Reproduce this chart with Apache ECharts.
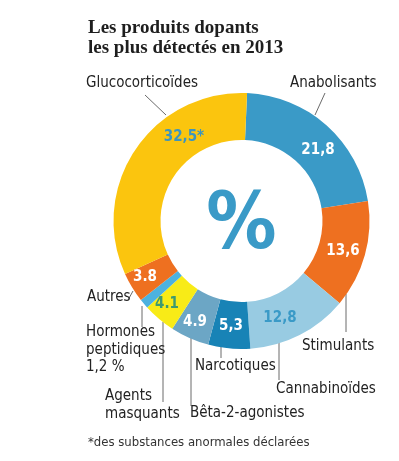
<!DOCTYPE html>
<html><head><meta charset="utf-8">
<script src="https://cdn.jsdelivr.net/npm/echarts@6/dist/echarts.min.js"></script>
<style>html,body{margin:0;padding:0;background:#fff}#c{width:399px;height:461px}</style>
</head><body><div id="c"></div>
<script>
// ---- data ----
const categories = ['Anabolisants','Stimulants','Cannabinoïdes','Narcotiques','Bêta-2-agonistes','Agents masquants','Hormones peptidiques','Autres','Glucocorticoïdes'];
const values = [21.8, 13.6, 12.8, 5.3, 4.9, 4.1, 1.2, 3.8, 32.5];
const valueLabels = ['21,8','13,6','12,8','5,3','4.9','4.1','','3.8','32,5*'];
const outerLabels = ['Anabolisants','Stimulants','Cannabinoïdes','Narcotiques','Bêta-2-agonistes','Agents\nmasquants','Hormones\npeptidiques\n1,2 %','Autres','Glucocorticoïdes'];
const titleText = 'Les produits dopants\nles plus détectés en 2013';
const footnote = '*des substances anormales déclarées';

// ---- styles / layout ----
const colors = ['#3A9AC7','#EE7020','#98CBE2','#1883B6','#6CA6C5','#F8EB17','#4CB2DF','#EE7020','#FBC50E'];
const valueColors = ['#fff','#fff','#3A9AC7','#fff','#fff','#3E9A70','#fff','#fff','#3C95BE'];
const innerPos = [[318,150],[343,251],[280,318],[231,326],[195,322],[167,304],[0,0],[145,277],[184,137]];
const outerPos = [[290,83],[302,346],[276,389],[195,366],[190,413],[105,405],[86,350],[87,297],[86,83]];
const outerLines = [
  [[315,115],[325,93]], [[346,294],[346,332]], [[279,342],[279,380]], [[221,347],[221,358]],
  [[191,338],[191,406]], [[163,322],[163,402]], [[142,306],[142,327]], [[133,291],[128,300]],
  [[166,115],[145,95]]
];
const CX = 241.5, CY = 221, R0 = 81, R1 = 128;
const NARROW = '"Liberation Sans Narrow","DejaVu Sans Condensed","Roboto",sans-serif';

const chart = echarts.init(document.getElementById('c'), null, {renderer:'canvas'});
const base = categories.map((n,i)=>({name:n, value:values[i]}));
chart.setOption({
  animation:false,
  title:{text:titleText, left:83, top:13,
    textStyle:{fontFamily:'"Liberation Serif","DejaVu Serif",serif', fontWeight:'bold', fontSize:19, lineHeight:20, color:'#1e1e1e'}},
  graphic:[
    {type:'text', x:CX, y:CY+7, style:{text:'%', fill:'#3A9AC7', font:'bold 78px '+NARROW, align:'center', verticalAlign:'middle'}, z:10},
    {type:'text', x:88, y:443, style:{text:footnote, fill:'#333', font:'13px '+NARROW, align:'left', verticalAlign:'middle'}}
  ],
  series:[
    {type:'pie', center:[CX,CY], radius:[R0,R1], startAngle:87.5, clockwise:true, silent:true,
     data: base.map((d,i)=>({name:d.name, value:d.value, itemStyle:{color:colors[i]},
        label:{color:valueColors[i]}})),
     label:{show:true, position:'inside', formatter:p=>valueLabels[p.dataIndex],
        fontFamily:NARROW, fontWeight:'bold', fontSize:15},
     labelLine:{show:false},
     labelLayout:p=>({x:innerPos[p.dataIndex][0], y:innerPos[p.dataIndex][1], align:'center', verticalAlign:'middle'})
    },
    {type:'pie', center:[CX,CY], radius:[R0,R1], startAngle:87.5, clockwise:true, silent:true,
     data: base.map(d=>({name:d.name, value:d.value})),
     itemStyle:{color:'rgba(0,0,0,0)'},
     label:{show:true, position:'outside', alignTo:'none', overflow:'none', width:200,
        formatter:p=>outerLabels[p.dataIndex],
        fontFamily:NARROW, fontSize:15, lineHeight:17.5, color:'#222'},
     labelLine:{show:true, lineStyle:{color:'#444', width:0.8}},
     labelLayout:p=>{const i=p.dataIndex; const L=outerLines[i];
        return {x:outerPos[i][0], y:outerPos[i][1], align:'left', verticalAlign:'middle',
          labelLinePoints:[L[0],L[1],L[1]]};}
    }
  ]
});
</script></body></html>
